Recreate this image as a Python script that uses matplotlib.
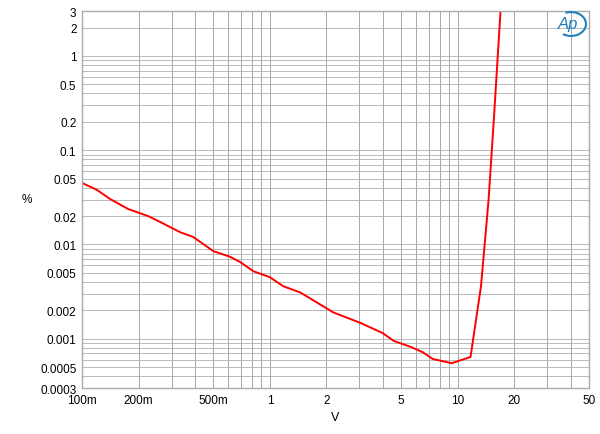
import numpy as np
import matplotlib.pyplot as plt
from matplotlib.patches import Arc

plt.rcParams['font.family'] = ['Liberation Sans', 'DejaVu Sans']

# curve
volts = [0.1, 0.12, 0.141, 0.176, 0.225, 0.261, 0.333, 0.391, 0.5, 0.615,
         0.696, 0.817, 1.0, 1.18, 1.45, 2.18, 3.04, 3.98, 4.56, 5.61,
         6.51, 7.36, 9.29, 11.7, 13.3, 14.1, 14.6, 15.6, 16.9]
pct = [0.045, 0.038, 0.0304, 0.0238, 0.020, 0.0173, 0.0135, 0.012, 0.0085, 0.0074,
       0.0065, 0.0052, 0.0045, 0.0036, 0.0031, 0.0019, 0.00147, 0.00115, 0.00095, 0.00082,
       0.00072, 0.00061, 0.00055, 0.00064, 0.0036, 0.0135, 0.030, 0.225, 3.0]

xticks = [0.1, 0.2, 0.5, 1, 2, 5, 10, 20, 50]
xlabels = ['100m', '200m', '500m', '1', '2', '5', '10', '20', '50']
yticks = [3, 2, 1, 0.5, 0.2, 0.1, 0.05, 0.02, 0.01, 0.005, 0.002, 0.001, 0.0005, 0.0003]
ylabels = ['3', '2', '1', '0.5', '0.2', '0.1', '0.05', '0.02', '0.01', '0.005',
           '0.002', '0.001', '0.0005', '0.0003']

fig = plt.figure(figsize=(6, 4.35), dpi=100)
ax = fig.add_axes([0.1367, 0.1057, 0.845, 0.8667])
ax.set_xscale('log')
ax.set_yscale('log')
ax.set_xlim(0.1, 50)
ax.set_ylim(0.0003, 3)

ax.plot(volts, pct, color='#ff0000', lw=1.4, solid_joinstyle='round')

ax.set_xticks(xticks)
ax.set_xticklabels(xlabels)
ax.set_yticks(yticks)
ax.set_yticklabels(ylabels)
ax.tick_params(which='both', length=0, labelsize=8.5, pad=4)
ax.grid(True, which='both', axis='x', color='#999999', lw=0.6)
ax.grid(True, which='both', axis='y', color='#b0b0b0', lw=0.6)
ax.set_axisbelow(True)
for s in ax.spines.values():
    s.set_color('#aaaaaa')
    s.set_linewidth(1.0)

fig.text(27 / 600, 1 - 200 / 435, '%', fontsize=8.5, ha='center', va='center')
fig.text(335 / 600, 1 - 418 / 435, 'V', fontsize=9, ha='center', va='center')

# Ap logo
fig.text(568 / 600, 1 - 25 / 435, 'Ap', fontsize=12, style='italic',
         color='#1f7fc0', ha='center', va='center')
logo = Arc((571 / 600, 1 - 25 / 435), 0.05, 0.055, angle=0, theta1=-120, theta2=110,
           transform=fig.transFigure, color='#1f7fc0', lw=1.5)
fig.add_artist(logo)

fig.savefig('out.png', dpi=100)
